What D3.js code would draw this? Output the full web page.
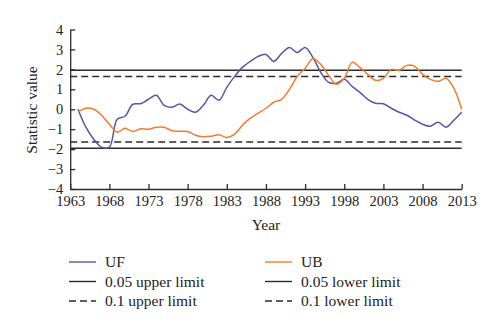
<!DOCTYPE html>
<html>
<head>
<meta charset="utf-8">
<script src="https://cdn.jsdelivr.net/npm/d3@7"></script>
<style>
  body { margin: 0; background: #fff; }
  svg text { font-family: "Liberation Serif", "DejaVu Serif", serif; fill: #222; }
</style>
</head>
<body>
<figure id="chart_view" style="margin:0"></figure>
<script>
// Mann-Kendall statistics, one value per year
const years = d3.range(1964, 2014);
const ufValues = [
  0.0, -0.9, -1.5, -1.9, -1.9, -0.5, -0.35, 0.25, 0.28, 0.5,
  0.7, 0.2, 0.1, 0.26, 0.0, -0.15, 0.2, 0.7, 0.45, 1.1,
  1.65, 2.1, 2.4, 2.65, 2.75, 2.4, 2.8, 3.1, 2.85, 3.1,
  2.6, 1.85, 1.35, 1.3, 1.5, 1.15, 0.85, 0.5, 0.3, 0.28,
  0.05, -0.15, -0.3, -0.55, -0.75, -0.85, -0.65, -0.9, -0.55, -0.15
];
const ubValues = [
  -0.15, 0.05, 0.0, -0.3, -0.75, -1.15, -0.95, -1.12, -0.98, -1.0,
  -0.9, -0.9, -1.08, -1.1, -1.12, -1.3, -1.38, -1.35, -1.28, -1.42,
  -1.25, -0.8, -0.45, -0.2, 0.05, 0.35, 0.5, 1.0, 1.65, 2.05,
  2.55, 2.25, 1.7, 1.25, 1.55, 2.35, 2.1, 1.75, 1.45, 1.55,
  2.0, 1.95, 2.2, 2.15, 1.75, 1.5, 1.4, 1.55, 1.05, 0.0
];
const xTicks = d3.range(1963, 2014, 5);
const yTicks = d3.range(-4, 5, 1);
// critical values of the standard normal
const limits = [
  { name: "0.05 upper limit", value: 1.96, dash: null },
  { name: "0.1 upper limit", value: 1.64, dash: "7,4" },
  { name: "0.05 lower limit", value: -1.96, dash: null },
  { name: "0.1 lower limit", value: -1.64, dash: "7,4" }
];

const width = 500;
const height = 333;
const ufColor = "#5456a6";
const ubColor = "#f47c30";
const ink = "#2b2b2b";

const x = d3.scaleLinear().domain([1963, 2013]).range([70.2, 461.7]);
const y = d3.scaleLinear().domain([-4, 4]).range([189, 29.5]);

const svg = d3.select("figure#chart_view")
  .append("svg")
  .attr("width", width)
  .attr("height", height)
  .attr("viewBox", [0, 0, width, height]);

// Axes, ticks pointing into the plot
const xAxis = svg.append("g")
  .attr("transform", `translate(0,${y(-4)})`)
  .call(d3.axisBottom(x).tickValues(xTicks).tickFormat(d3.format("d"))
    .tickSizeInner(-5).tickSizeOuter(0).tickPadding(7));
const yAxis = svg.append("g")
  .attr("transform", `translate(${x(1963)},0)`)
  .call(d3.axisLeft(y).tickValues(yTicks)
    .tickSizeInner(-5).tickSizeOuter(0).tickPadding(7));

[xAxis, yAxis].forEach(g => {
  g.select(".domain").attr("stroke", ink).attr("stroke-width", 1.3);
  g.selectAll(".tick line").attr("stroke", ink).attr("stroke-width", 1.3);
  g.selectAll(".tick text")
    .attr("font-size", 14.5)
    .attr("font-family", "'Liberation Serif', 'DejaVu Serif', serif")
    .attr("fill", "#222");
});

// Significance limits
svg.append("g")
  .selectAll("line")
  .data(limits)
  .join("line")
  .attr("x1", x(1963))
  .attr("x2", x(2013))
  .attr("y1", d => y(d.value))
  .attr("y2", d => y(d.value))
  .attr("stroke", ink)
  .attr("stroke-width", 1.5)
  .attr("stroke-dasharray", d => d.dash);

// UF and UB curves
const series = [
  { name: "UF", values: ufValues, color: ufColor },
  { name: "UB", values: ubValues, color: ubColor }
];
const line = d3.line()
  .x((d, i) => x(years[i]))
  .y(d => y(d))
  .curve(d3.curveCatmullRom.alpha(0.5));

svg.append("g")
  .selectAll("path")
  .data(series)
  .join("path")
  .attr("fill", "none")
  .attr("stroke", d => d.color)
  .attr("stroke-width", 1.5)
  .attr("d", d => line(d.values));

// Axis titles
svg.append("text")
  .attr("x", 266)
  .attr("y", 230)
  .attr("text-anchor", "middle")
  .attr("font-size", 15.5)
  .text("Year");
svg.append("text")
  .attr("transform", "translate(37,110) rotate(-90)")
  .attr("text-anchor", "middle")
  .attr("font-size", 15.5)
  .text("Statistic value");

// Legend, two columns
const legendItems = [
  { name: "UF", color: ufColor, dash: null, col: 0, row: 0 },
  { name: limits[0].name, color: ink, dash: null, col: 0, row: 1 },
  { name: limits[1].name, color: ink, dash: "7,4", col: 0, row: 2 },
  { name: "UB", color: ubColor, dash: null, col: 1, row: 0 },
  { name: limits[2].name, color: ink, dash: null, col: 1, row: 1 },
  { name: limits[3].name, color: ink, dash: "7,4", col: 1, row: 2 }
];
const legend = svg.append("g")
  .selectAll("g")
  .data(legendItems)
  .join("g")
  .attr("transform", d => `translate(${69 + d.col * 196},${262 + d.row * 19.5})`);
legend.append("line")
  .attr("x1", 0)
  .attr("x2", 27)
  .attr("stroke", d => d.color)
  .attr("stroke-width", 1.4)
  .attr("stroke-dasharray", d => d.dash);
legend.append("text")
  .attr("x", 36)
  .attr("dy", "0.35em")
  .attr("font-size", 15.5)
  .text(d => d.name);
</script>
</body>
</html>
